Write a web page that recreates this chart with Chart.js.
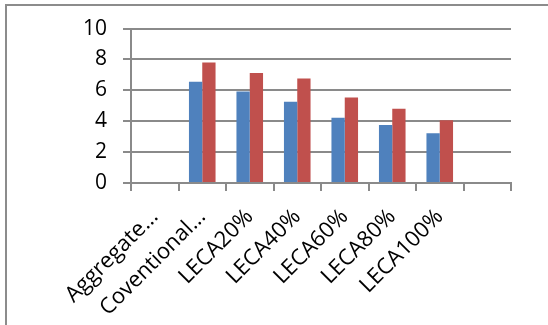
<!DOCTYPE html>
<html>
<head>
<meta charset="utf-8">
<script src="https://cdn.jsdelivr.net/npm/chart.js@4.4.1/dist/chart.umd.min.js"></script>
<style>
    html, body { margin: 0; padding: 0; background: #fff; overflow: hidden; }
    #wrap { position: relative; width: 548px; height: 325px; }
    #frame { position: absolute; left: 5px; top: 4px; width: 600px; height: 400px; border: 2px solid #8c8c8c; box-sizing: border-box; }
    #chart { position: absolute; left: 0; top: 0; }
</style>
</head>
<body>
<div id="wrap">
    <div id="frame"></div>
    <canvas id="chart" width="548" height="325"></canvas>
</div>
<script>
// values
const categories = ["Aggregate...", "Coventional...", "LECA20%", "LECA40%", "LECA60%", "LECA80%", "LECA100%", ""];
const blueValues = [null, 6.55, 5.93, 5.26, 4.23, 3.75, 3.23, null];
const redValues = [null, 7.8, 7.13, 6.77, 5.54, 4.81, 4.06, null];
const yMin = 0;
const yMax = 10;
const yStep = 2;

const axisGray = "#8a8a8a";
const fontFamily = "'Open Sans', 'Noto Sans', sans-serif";

window.addEventListener("DOMContentLoaded", () => {
    const ctx = document.getElementById("chart").getContext("2d");

    new Chart(ctx, {
        type: "bar",
        data: {
            labels: categories,
            datasets: [
                { label: "Series1", data: blueValues, backgroundColor: "#4f81bd", categoryPercentage: 0.56, barPercentage: 1 },
                { label: "Series2", data: redValues, backgroundColor: "#c0504d", categoryPercentage: 0.56, barPercentage: 1 }
            ]
        },
        options: {
            responsive: false,
            animation: false,
            layout: { padding: { left: 0, right: 37, top: 22, bottom: 0 } },
            plugins: { legend: { display: false }, tooltip: { enabled: false } },
            scales: {
                x: {
                    grid: { drawOnChartArea: false, drawTicks: true, tickLength: 8, color: axisGray, lineWidth: 2 },
                    border: { color: axisGray, width: 2 },
                    ticks: {
                        color: "#000",
                        font: { family: fontFamily, size: 22 },
                        minRotation: 45,
                        maxRotation: 45,
                        autoSkip: false,
                        padding: 13
                    },
                    afterFit: scale => { scale.height = 142; }
                },
                y: {
                    min: yMin,
                    max: yMax,
                    grid: { color: axisGray, lineWidth: 2, tickLength: 8 },
                    border: { color: axisGray, width: 2 },
                    ticks: {
                        stepSize: yStep,
                        color: "#000",
                        font: { family: fontFamily, size: 21 },
                        padding: 16
                    },
                    afterFit: scale => { scale.width = 131; }
                }
            }
        }
    });
});
</script>
</body>
</html>
